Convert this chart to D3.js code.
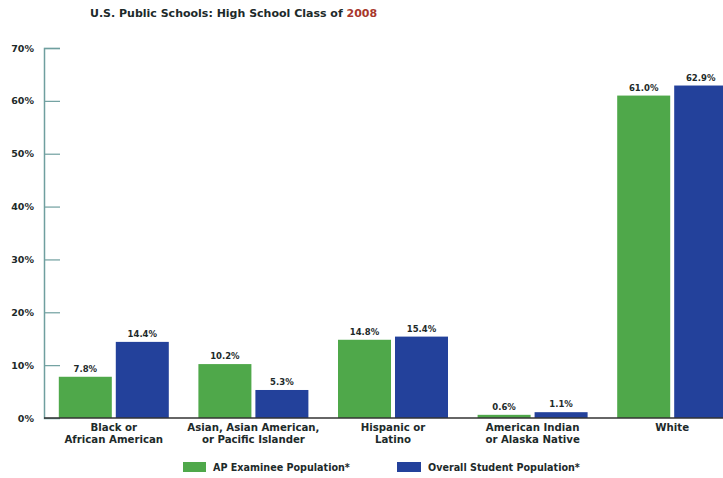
<!DOCTYPE html>
<html>
<head>
<meta charset="utf-8">
<script src="https://cdn.jsdelivr.net/npm/d3@7"></script>
<style>
  body { margin: 0; background: #fff; }
  text { font-family: "DejaVu Sans", Verdana, sans-serif; font-weight: bold; fill: #1d2a2a; }
</style>
</head>
<body>
<div id="chart"></div>
<script>
const categories = [
  ["Black or", "African American"],
  ["Asian, Asian American,", "or Pacific Islander"],
  ["Hispanic or", "Latino"],
  ["American Indian", "or Alaska Native"],
  ["White"]
]
const seriesNames = ["AP Examinee Population*", "Overall Student Population*"]
const apValues = [7.8, 10.2, 14.8, 0.6, 61.0]
const overallValues = [14.4, 5.3, 15.4, 1.1, 62.9]
const yTicks = [0, 10, 20, 30, 40, 50, 60, 70]

const colors = ["#4fa84a", "#23419b"]
const width = 723, height = 478

const svg = d3.select("#chart").append("svg")
  .attr("width", width)
  .attr("height", height)

// title
const title = svg.append("text")
  .attr("x", 90).attr("y", 17)
  .style("font-size", "11px")
title.append("tspan").text("U.S. Public Schools: High School Class of ")
title.append("tspan").text("2008").style("fill", "#a8372c")

const y = d3.scaleLinear().domain([0, 70]).range([418, 48])
const x0 = d3.scaleBand().domain(d3.range(categories.length)).range([44, 742])
const bw = x0.bandwidth()
const x1 = d3.scaleBand().domain([0, 1]).range([bw / 2 - 55, bw / 2 + 55]).paddingInner(0.07)

// y axis
const axis = svg.append("g").attr("transform", "translate(44,0)")
  .call(d3.axisRight(y).tickValues(yTicks).tickSize(16).tickFormat(""))
axis.select(".domain").attr("stroke", "#6f9f9f").attr("stroke-width", 1.5)
axis.selectAll(".tick line").attr("stroke", "#6f9f9f").attr("stroke-width", 1.2)
axis.selectAll(".tick").filter(d => d === 0).remove()

svg.selectAll(".ylab").data(yTicks).enter().append("text")
  .attr("x", 34).attr("y", d => y(d) + 3.5)
  .attr("text-anchor", "end")
  .style("font-size", "9.5px")
  .text(d => d + "%")

const rows = categories.map((c, i) => ({ i, vals: [apValues[i], overallValues[i]] }))

const groups = svg.selectAll(".grp").data(rows).enter().append("g")
  .attr("transform", d => `translate(${x0(d.i)},0)`)

groups.selectAll("rect").data(d => d.vals).enter().append("rect")
  .attr("x", (d, j) => x1(j))
  .attr("width", x1.bandwidth())
  .attr("y", d => y(d))
  .attr("height", d => y(0) - y(d))
  .attr("fill", (d, j) => colors[j])

groups.selectAll(".val").data(d => d.vals).enter().append("text")
  .attr("x", (d, j) => x1(j) + x1.bandwidth() / 2)
  .attr("y", d => y(d) - 5)
  .attr("text-anchor", "middle")
  .style("font-size", "8.5px")
  .text(d => d.toFixed(1) + "%")

// baseline
svg.append("line")
  .attr("x1", 44).attr("x2", width)
  .attr("y1", y(0)).attr("y2", y(0))
  .attr("stroke", "#333").attr("stroke-width", 1.5)

// category labels
groups.each(function (d) {
  const t = d3.select(this).append("text")
    .attr("text-anchor", "middle")
    .style("font-size", "10.2px")
  categories[d.i].forEach((line, k) => {
    t.append("tspan").attr("x", bw / 2).attr("y", 431 + k * 12).text(line)
  })
})

// legend
const legendX = [183, 397]
const legend = svg.selectAll(".leg").data(seriesNames).enter().append("g")
  .attr("transform", (d, i) => `translate(${legendX[i]},462)`)
legend.append("rect").attr("width", (d, i) => i ? 24 : 23).attr("height", 10)
  .attr("fill", (d, i) => colors[i])
legend.append("text")
  .attr("x", (d, i) => i ? 31 : 30).attr("y", 9)
  .style("font-size", "9.6px")
  .text(d => d)
</script>
</body>
</html>
